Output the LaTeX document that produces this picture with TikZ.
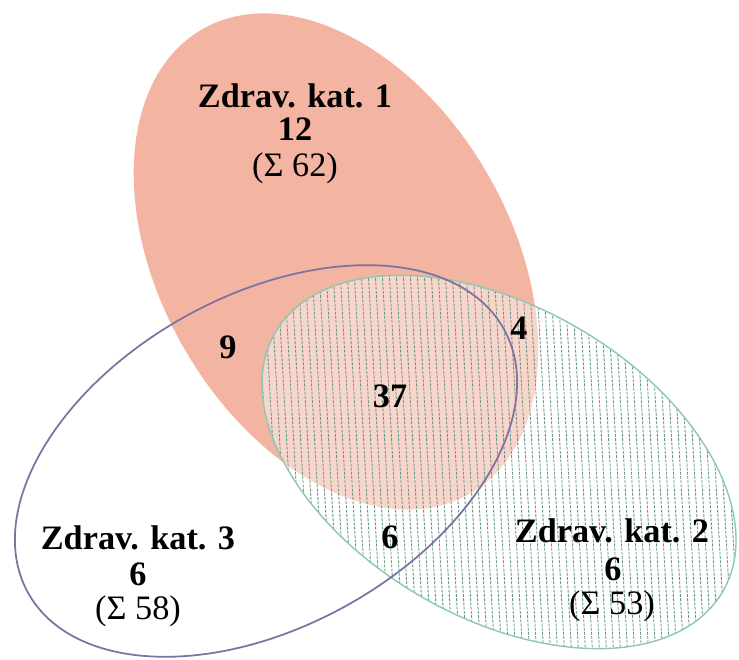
\documentclass[tikz,border=0pt]{standalone}
\usepackage{fontspec}
\setmainfont{Liberation Serif}
\usepackage{tikz}

\definecolor{katone}{RGB}{243,180,162}
\definecolor{kattwo}{RGB}{140,200,180}
\definecolor{katthree}{RGB}{125,115,160}
\definecolor{hatchcol}{RGB}{100,150,130}

\begin{document}
\begin{tikzpicture}[auto,
    num/.style={font=\fontsize{19.5}{21}\selectfont\bfseries, inner sep=0pt},
    sumtxt/.style={font=\fontsize{19.5}{21}\selectfont, inner sep=0pt},
    hatchline/.style={draw=hatchcol, line width=0.5pt, dash pattern=on 1.6pt off 0.8pt}]

    \useasboundingbox (0,0) rectangle (14.78,13.2);

    \fill [katone, shift={(6.72,7.97)}, rotate=-60] (0,0) ellipse (5.36 and 3.5);
    \fill [white, opacity=0.45, shift={(9.98,3.96)}, rotate=-30] (0,0) ellipse (5.17 and 3.11);
    \begin{scope}
      \clip [shift={(9.98,3.96)}, rotate=-30] (0,0) ellipse (5.17 and 3.11);
      \foreach \x in {5.0,5.14,...,15.4}
        \draw [hatchline] (\x,0) -- ++(-0.45,8);
    \end{scope}
    \draw [kattwo, line width=0.8pt, shift={(9.98,3.96)}, rotate=-30] (0,0) ellipse (5.17 and 3.11);
    \draw [katthree, line width=1pt, shift={(5.32,3.98)}, rotate=29] (0,0) ellipse (5.44 and 3.31);

    \node [num] (a) at (5.9, 11.28) {Zdrav. kat. 1};
    \node [num] (b) at (5.9, 10.62) {12};
    \node [sumtxt] (c) at (5.9, 9.84) {(Σ 62)};
    \node [num] (d) at (4.56, 6.26) {9};
    \node [num] (e) at (10.38, 6.64) {4};
    \node [num] (f) at (7.8, 5.28) {37};
    \node [num] (g) at (7.8, 2.46) {6};
    \node [num] (h) at (2.76, 2.44) {Zdrav. kat. 3};
    \node [num] (i) at (2.76, 1.72) {6};
    \node [sumtxt] (j) at (2.76, 0.98) {(Σ 58)};
    \node [num] (k) at (12.24, 2.58) {Zdrav. kat. 2};
    \node [num] (l) at (12.26, 1.82) {6};
    \node [sumtxt] (m) at (12.24, 1.08) {(Σ 53)};

\end{tikzpicture}
\end{document}
